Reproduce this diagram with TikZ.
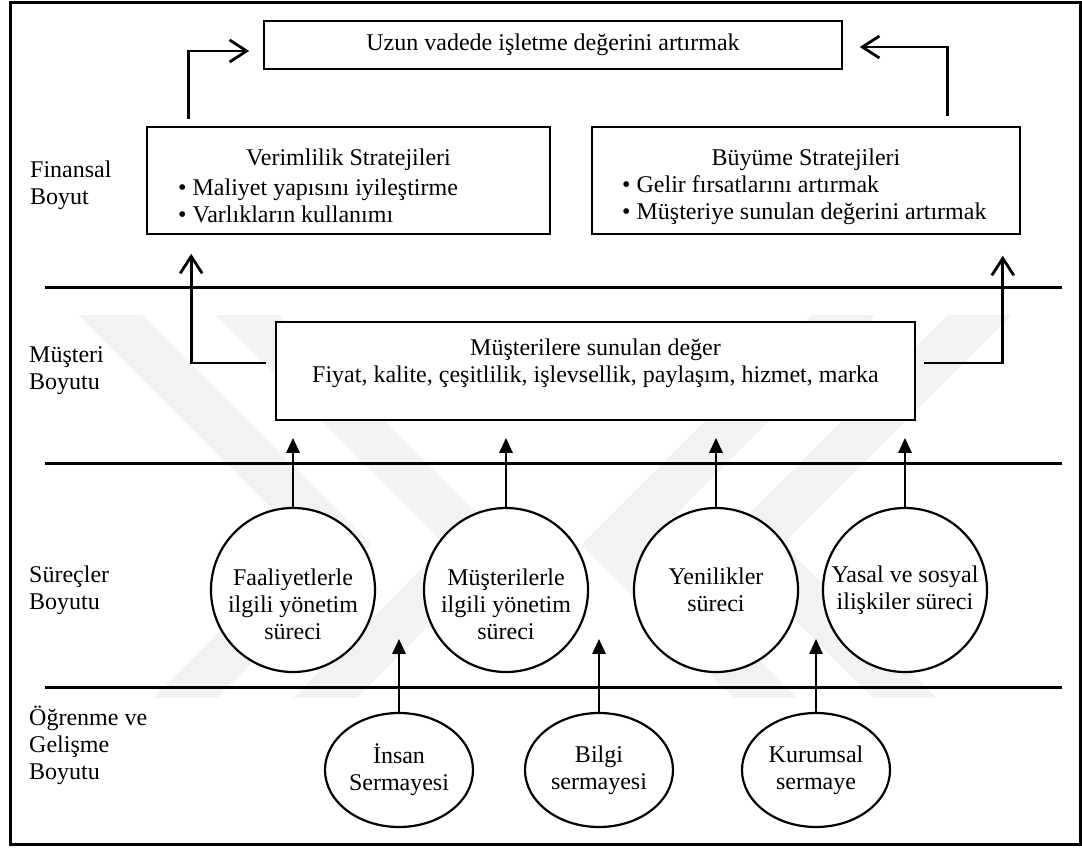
\documentclass[tikz,border=0pt]{standalone}
\usepackage{fontspec}
\setmainfont{Liberation Serif}
\usetikzlibrary{arrows.meta,shapes.geometric}

\begin{document}
\begin{tikzpicture}[x=1pt,y=-1pt,
  every node/.style={font=\fontsize{24}{27}\selectfont, inner sep=0pt},
  box/.style={draw, line width=1.6pt, fill=white},
  proc/.style={draw, circle, line width=2.2pt, fill=white, minimum size=164pt},
  capital/.style={draw, ellipse, line width=2.2pt, fill=white, minimum width=148pt, minimum height=114pt, align=center},
  divider/.style={line width=3pt},
  barb/.style={line width=2.8pt, -{Straight Barb[length=17pt,width=22pt]}},
  tri/.style={line width=2.8pt, -{Triangle[length=15pt,width=13pt]}},
  wmband/.style={line width=45pt, black!5, line join=miter},
  side/.style={anchor=west, align=left},
  bullets/.style={anchor=west, align=left},
]
\useasboundingbox (0,0) rectangle (1082,850);

% faint background emblem
\begin{scope}
  \clip (12,316) rectangle (1078,697);
  \draw[wmband] (95,300) -- (339,544) -- (163,720);
  \draw[wmband] (232,300) -- (477,545) -- (303,720);
  \draw[wmband] (995,300) -- (751,544) -- (927,720);
  \draw[wmband] (858,300) -- (613,545) -- (787,720);
\end{scope}

% outer frame
\draw[line width=3pt] (10,2.5) rectangle (1080,844);

% layer dividers
\draw[divider] (45,288) -- (1062,288);
\draw[divider] (45,463) -- (1062,463);
\draw[divider] (45,687) -- (1062,687);

% layer labels
\node[side] (finL)   at (30,185) {Finansal\\Boyut};
\node[side] (custL)  at (29,371) {Müşteri\\Boyutu};
\node[side] (procL)  at (29,590) {Süreçler\\Boyutu};
\node[side] (learnL) at (29,745) {Öğrenme ve\\Gelişme\\Boyutu};

% financial layer
\node[box, minimum width=578pt, minimum height=48pt] (goal) at (553,45) {Uzun vadede işletme değerini artırmak};

\node[box, minimum width=403pt, minimum height=107pt] (eff) at (348.5,180.5) {};
\node (effTitle) at (348.5,160) {Verimlilik Stratejileri};
\node[bullets] (effList) at (178,200.5) {\textbullet\ Maliyet yapısını iyileştirme\\\textbullet\ Varlıkların kullanımı};

\node[box, minimum width=428pt, minimum height=107pt] (grow) at (806,180.5) {};
\node (growTitle) at (806,160) {Büyüme Stratejileri};
\node[bullets] (growList) at (622,200.5) {\textbullet\ Gelir fırsatlarını artırmak\\\textbullet\ Müşteriye sunulan değerini artırmak};

% customer layer
\node[box, minimum width=639pt, minimum height=98pt] (value) at (595.5,371) {};
\node[align=center] (valueText) at (595.5,363) {Müşterilere sunulan değer\\Fiyat, kalite, çeşitlilik, işlevsellik, paylaşım, hizmet, marka};

% process layer
\node[proc] (c1) at (293,590) {};
\node[proc] (c2) at (506,590) {};
\node[proc] (c3) at (716,590) {};
\node[proc] (c4) at (905,590) {};
\node[align=center] (t1) at (293,604) {Faaliyetlerle\\ilgili yönetim\\süreci};
\node[align=center] (t2) at (506,604) {Müşterilerle\\ilgili yönetim\\süreci};
\node[align=center] (t3) at (716,590) {Yenilikler\\süreci};
\node[align=center] (t4) at (905,590) {Yasal ve sosyal\\ilişkiler süreci};

% learning and growth layer
\node[capital] (e1) at (399,770) {İnsan\\Sermayesi};
\node[capital] (e2) at (599,770) {Bilgi\\sermayesi};
\node[capital] (e3) at (816,770) {Kurumsal\\sermaye};

% connectors
\draw[barb] ([xshift=42pt,yshift=7pt]eff.north west) |- ([xshift=-14pt,yshift=-6pt]goal.west);
\draw[barb] ([xshift=-73pt,yshift=10pt]grow.north east) |- ([xshift=17pt,yshift=-2pt]goal.east);
\draw[barb] ([xshift=-9pt,yshift=8pt]value.west) -| ([xshift=45pt,yshift=-19pt]eff.south west);
\draw[barb] ([xshift=8pt,yshift=8pt]value.east) -| ([xshift=-18pt,yshift=-21pt]grow.south east);

\foreach \c in {c1,c2,c3,c4}
  \draw[tri, shorten >=17pt] (\c.north) -- (\c.north |- value.south);

\foreach \e in {e1,e2,e3}
  \draw[tri] (\e.north) -- ++(0,-73);
\end{tikzpicture}
\end{document}
